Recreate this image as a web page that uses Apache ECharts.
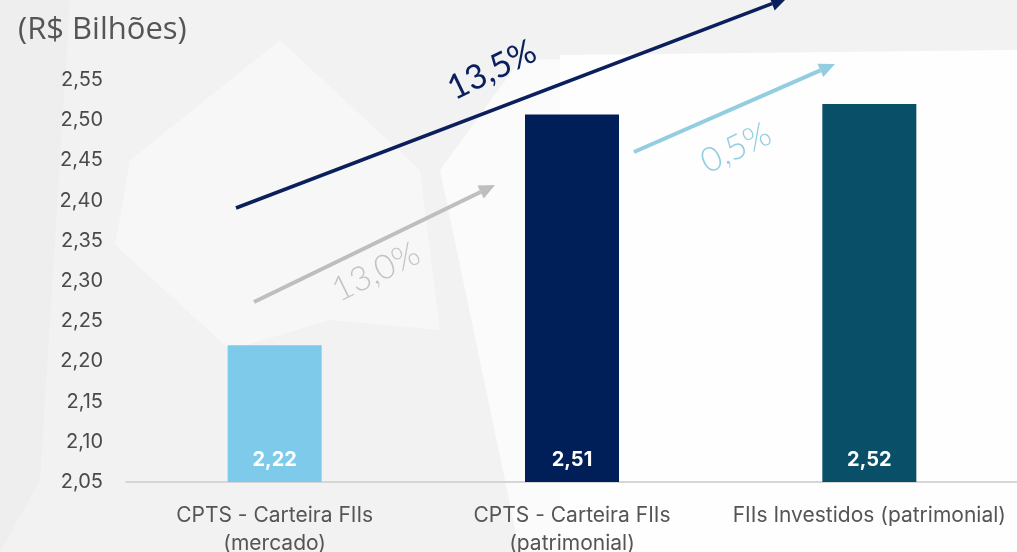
<!DOCTYPE html>
<html><head><meta charset="utf-8">
<script src="https://cdn.jsdelivr.net/npm/echarts@6/dist/echarts.min.js"></script>
<style>html,body{margin:0;padding:0;background:#f7f7f7;overflow:hidden}#c{width:1017px;height:552px}</style>
</head><body><div id="c"></div>
<script>
const categories = ['CPTS - Carteira FIIs\n(mercado)', 'CPTS - Carteira FIIs\n(patrimonial)', 'FIIs Investidos (patrimonial)'];
const values = [2.22, 2.507, 2.52];
const valueLabels = ['2,22', '2,51', '2,52'];
const barColors = ['#7ECAEA', '#001E58', '#094F68'];
const growthLabels = ['13,5%', '13,0%', '0,5%'];
const yTicks = [2.05, 2.10, 2.15, 2.20, 2.25, 2.30, 2.35, 2.40, 2.45, 2.50, 2.55];

const chart = echarts.init(document.getElementById('c'), null, {renderer: 'canvas'});

function arrow(x1, y1, x2, y2, color, w, head) {
  const a = Math.atan2(y2 - y1, x2 - x1);
  const bx = x2 - head * Math.cos(a), by = y2 - head * Math.sin(a);
  const px = Math.sin(a) * head * 0.45, py = -Math.cos(a) * head * 0.45;
  return [
    {type: 'line', z: 10, shape: {x1: x1, y1: y1, x2: bx, y2: by}, style: {stroke: color, lineWidth: w}},
    {type: 'polygon', z: 10, shape: {points: [[x2, y2], [bx + px, by + py], [bx - px, by - py]]}, style: {fill: color}}
  ];
}

const bg = [
  {type: 'rect', z: -10, shape: {x: 0, y: 0, width: 1017, height: 552}, style: {fill: '#f2f2f2'}},
  {type: 'polygon', z: -9, shape: {points: [[0, 0], [70, 0], [40, 480], [0, 552]]}, style: {fill: '#eeeeee'}},
  {type: 'polygon', z: -9, shape: {points: [[115, 245], [130, 160], [280, 40], [420, 170], [440, 330], [330, 320], [230, 350]]}, style: {fill: '#f7f7f7'}},
  {type: 'polygon', z: -9, shape: {points: [[440, 170], [520, 60], [1017, 50], [1017, 552], [520, 552]]}, style: {fill: '#fbfbfb'}},
  {type: 'polygon', z: -9, shape: {points: [[560, 55], [1017, 50], [1017, 552], [560, 552]]}, style: {fill: '#fefefe'}}
];

const graphics = bg.concat(
  arrow(236, 208, 787, -2, '#0A1F5C', 3.5, 16),
  arrow(254, 302, 495, 185, '#BEBEBE', 4, 16),
  arrow(634, 152, 835, 64, '#92CDE0', 4, 16),
  [
    {type: 'text', z: 11, x: 492, y: 70, rotation: 26 * Math.PI / 180,
      style: {text: growthLabels[0], fill: '#0A1F5C', font: '34px Lato', textAlign: 'center', textVerticalAlign: 'middle'}},
    {type: 'text', z: 11, x: 376, y: 272, rotation: 26 * Math.PI / 180,
      style: {text: growthLabels[1], fill: '#C4C4C4', font: '300 34px Lato', textAlign: 'center', textVerticalAlign: 'middle'}},
    {type: 'text', z: 11, x: 736, y: 148, rotation: 26 * Math.PI / 180,
      style: {text: growthLabels[2], fill: '#92CDE0', font: '300 34px Lato', textAlign: 'center', textVerticalAlign: 'middle'}},
    {type: 'text', z: 11, x: 18, y: 30,
      style: {text: '(R$ Bilhões)', fill: '#555555', font: '31px "Open Sans"', textVerticalAlign: 'middle'}}
  ]
);

chart.setOption({
  animation: false,
  backgroundColor: 'transparent',
  graphic: graphics,
  grid: {left: 126, right: -1, top: 80, bottom: 70, containLabel: false, outerBoundsMode: 'none'},
  xAxis: {
    type: 'category', data: categories,
    axisLine: {lineStyle: {color: '#d6d6d6', width: 2}},
    axisTick: {show: false},
    axisLabel: {color: '#555555', fontSize: 21, fontFamily: 'Inter', lineHeight: 28, margin: 20, interval: 0}
  },
  yAxis: {
    type: 'value', min: 2.05, max: 2.55, interval: 0.05,
    splitLine: {show: false}, axisLine: {show: false}, axisTick: {show: false},
    axisLabel: {color: '#4a4a4a', fontSize: 20, fontFamily: 'Inter', margin: 23,
      formatter: v => { const t = yTicks.find(x => Math.abs(x - v) < 1e-6); return (t !== undefined ? t : v).toFixed(2).replace('.', ','); }}
  },
  series: [{
    type: 'bar', barWidth: 94,
    data: values.map((v, i) => ({value: v, itemStyle: {color: barColors[i]}, label: {formatter: valueLabels[i]}})),
    label: {show: true, position: 'insideBottom', distance: 12, color: '#ffffff', fontWeight: 'bold', fontSize: 20, fontFamily: 'Inter'}
  }]
});
</script></body></html>
